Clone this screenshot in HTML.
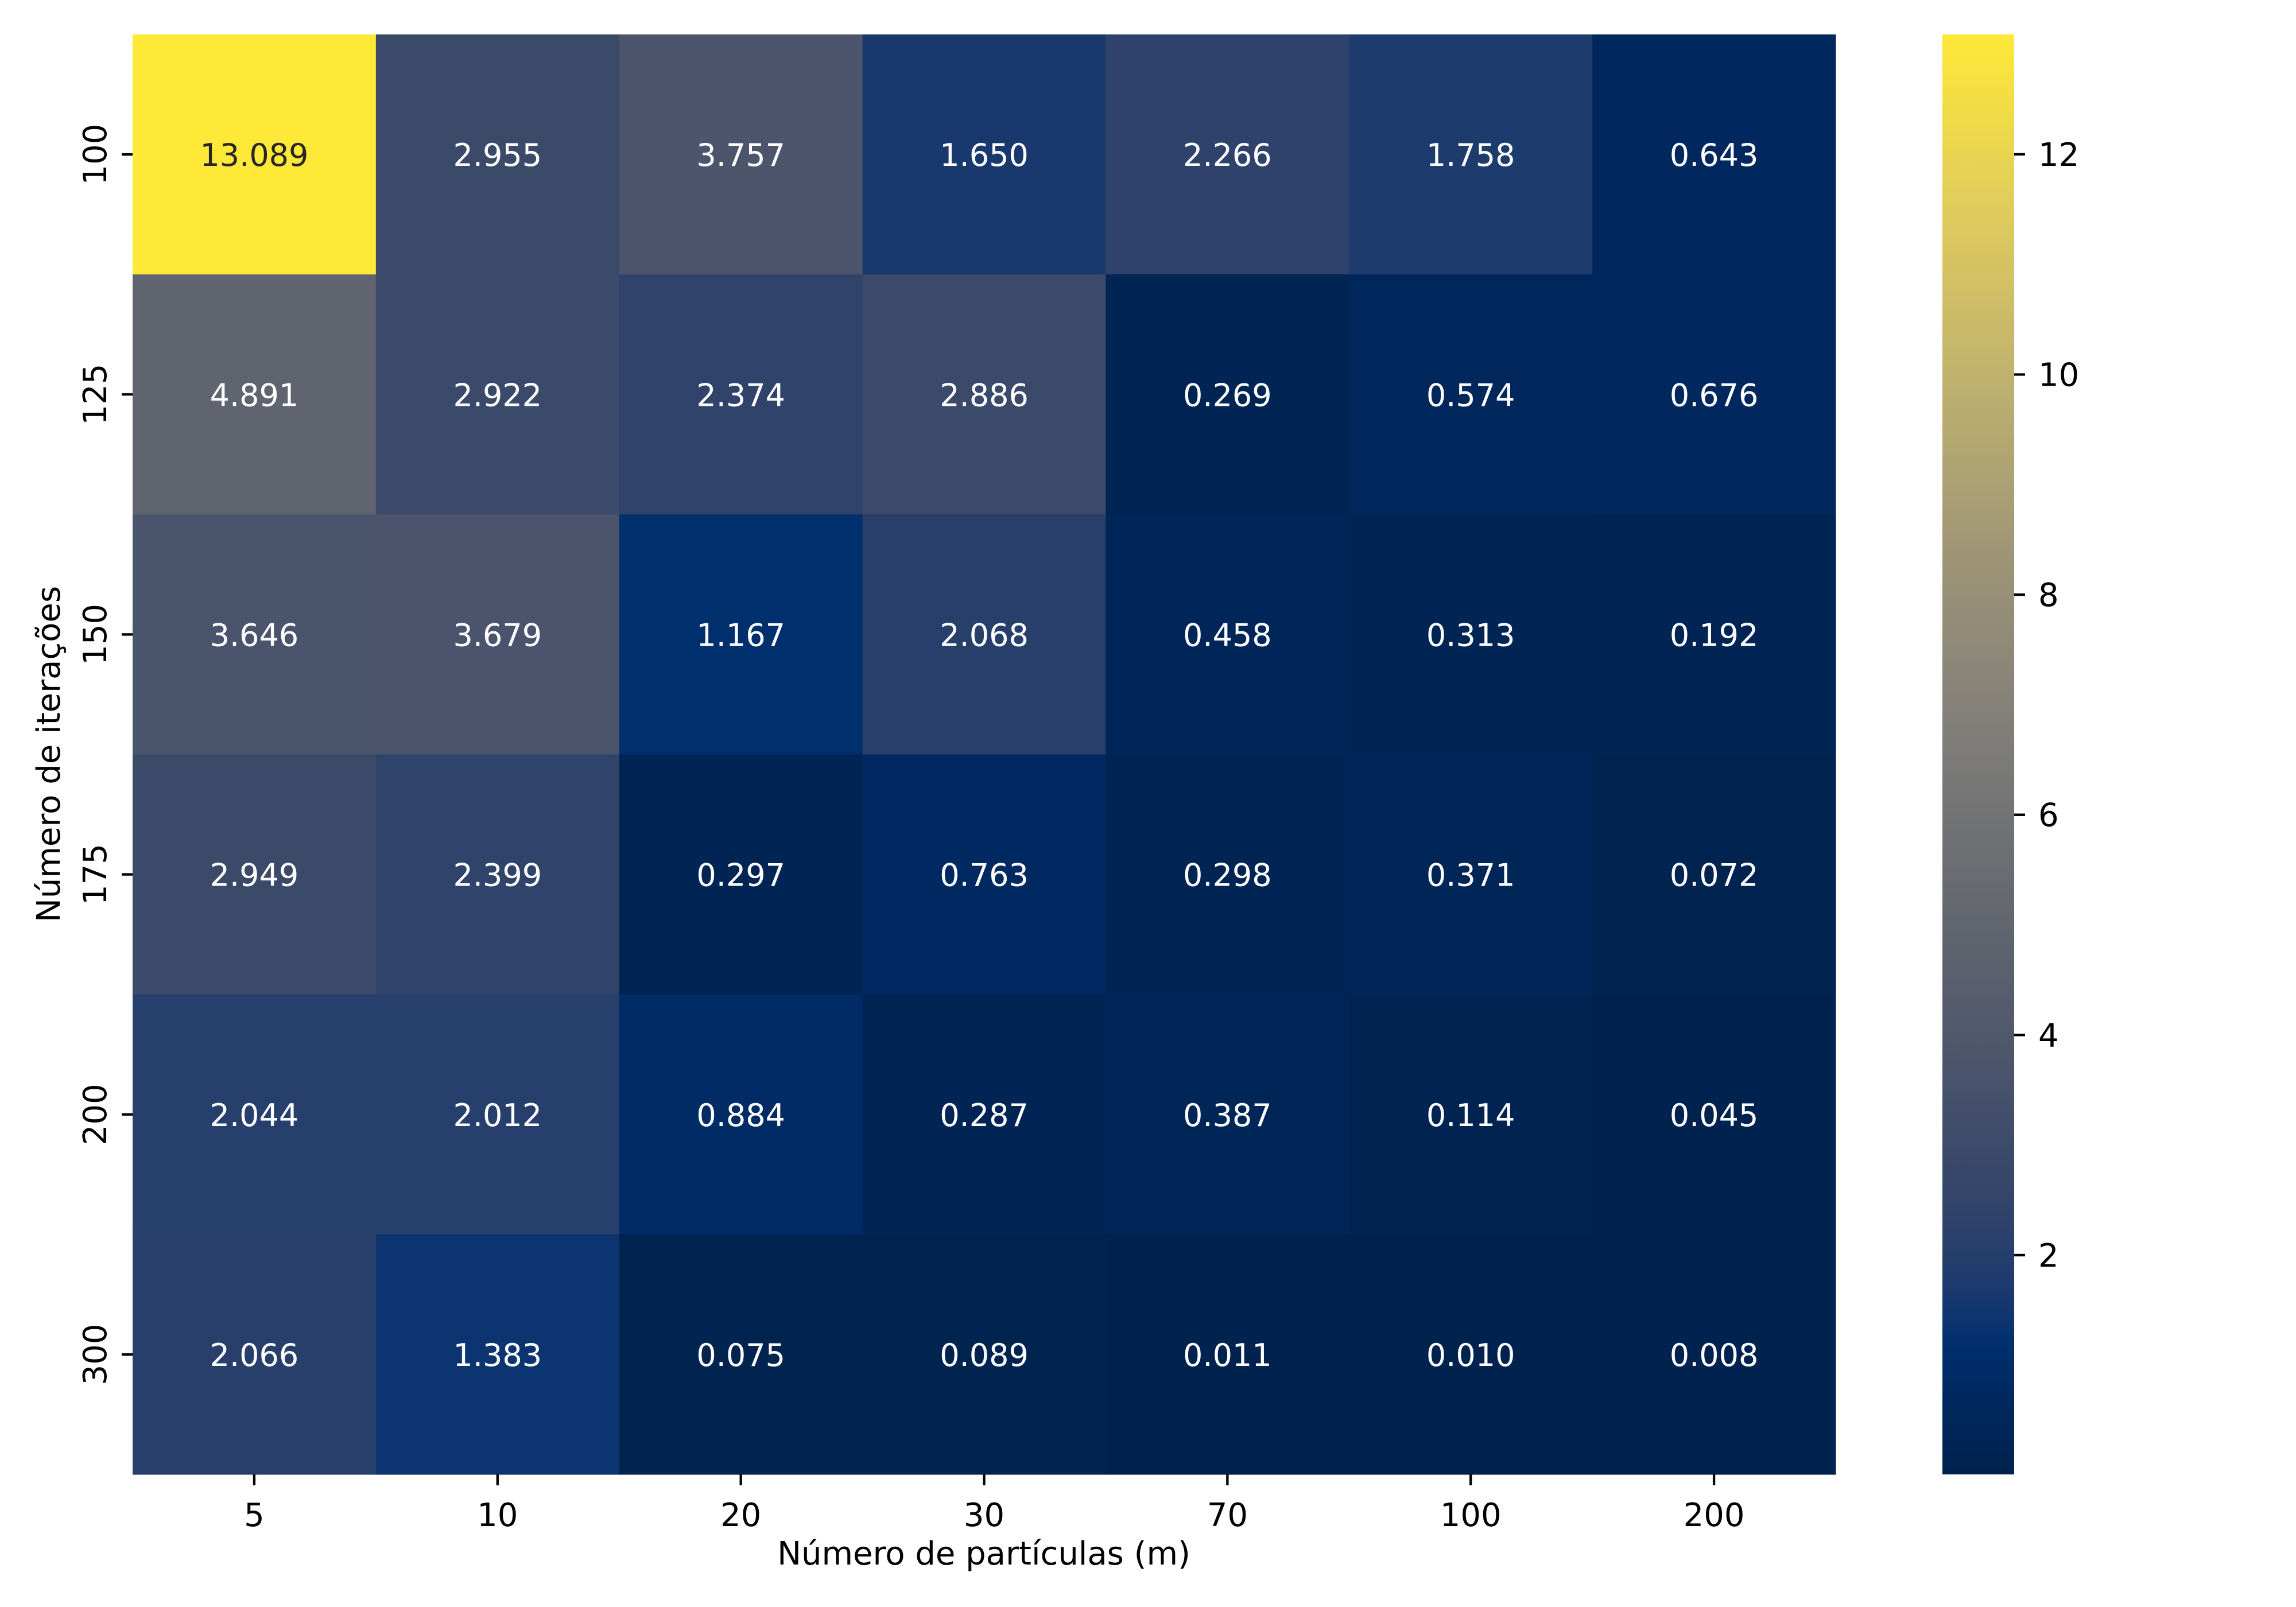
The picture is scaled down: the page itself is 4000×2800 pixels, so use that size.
<!DOCTYPE html>
<html><head><meta charset="utf-8"><style>
html,body{margin:0;padding:0;background:#fff;}
svg{display:block;font-family:"DejaVu Sans","Liberation Sans",sans-serif;}
</style></head><body>
<svg id="chart" width="4000" height="2800" viewBox="0 0 4000 2800" xmlns="http://www.w3.org/2000/svg">
<defs><linearGradient id="cbgrad" x1="0" y1="1" x2="0" y2="0"></linearGradient></defs>
<g id="cells"></g>
<g id="axes"></g>
<rect id="cbar" x="3384" y="60" width="125" height="2509" fill="url(#cbgrad)"/>
<g id="cbaxis"></g>
<text x="1714" y="2726" font-size="56" text-anchor="middle">Número de partículas (m)</text>
<text transform="translate(104,1314) rotate(-90)" font-size="56" text-anchor="middle">Número de iterações</text>
</svg>
<script>
const xCategories = ["5","10","20","30","70","100","200"];
const yCategories = ["100","125","150","175","200","300"];
const values = [
 [13.089,2.955,3.757,1.650,2.266,1.758,0.643],
 [4.891,2.922,2.374,2.886,0.269,0.574,0.676],
 [3.646,3.679,1.167,2.068,0.458,0.313,0.192],
 [2.949,2.399,0.297,0.763,0.298,0.371,0.072],
 [2.044,2.012,0.884,0.287,0.387,0.114,0.045],
 [2.066,1.383,0.075,0.089,0.011,0.010,0.008]
];
const cbTicks = [2,4,6,8,10,12];

const NS="http://www.w3.org/2000/svg";
const L=231,R=3198,T=60,B=2569;
const cw=(R-L)/xCategories.length, ch=(B-T)/yCategories.length;
const flat=values.flat();
const vmin=Math.min(...flat), vmax=Math.max(...flat);
const stops=[[0,"#00224e"],[0.05,"#00285e"],[0.09,"#002f6f"],[0.11,"#0f3570"],[0.13,"#1c3a6e"],[0.17,"#2d426b"],[0.225,"#3c4a6a"],[0.28,"#4b546c"],[0.373,"#60646e"],[0.5,"#7c7b78"],[0.625,"#9b9277"],[0.75,"#bcaf6f"],[0.875,"#dfcb5d"],[1,"#fee838"]];
function hex(h){return [1,3,5].map(i=>parseInt(h.substr(i,2),16));}
function cmap(v){
  let t=(v-vmin)/(vmax-vmin); t=Math.max(0,Math.min(1,t));
  for(let i=1;i<stops.length;i++){
    if(t<=stops[i][0]){const a=stops[i-1],b=stops[i];const f=(t-a[0])/(b[0]-a[0]);
      const ca=hex(a[1]),cb=hex(b[1]);return "rgb("+ca.map((c,k)=>Math.round(c+(cb[k]-c)*f)).join(",")+")";}
  }
  return stops[stops.length-1][1];
}
function xPos(i){return L+cw*i;}
function yPos(j){return T+ch*j;}
function cbY(v){return B-(v-vmin)/(vmax-vmin)*(B-T);}
function mk(tag,attrs,parent){const e=document.createElementNS(NS,tag);for(const k in attrs)e.setAttribute(k,attrs[k]);parent.appendChild(e);return e;}

const cells=document.getElementById('cells');
values.forEach((row,j)=>row.forEach((v,i)=>{
  const r=mk('rect',{x:xPos(i),y:yPos(j),width:cw+0.5,height:ch+0.5,fill:cmap(v)},cells);
  
  
  const t=mk('text',{x:xPos(i)+cw/2,y:yPos(j)+ch/2+20,'font-size':54,'text-anchor':'middle',fill:((v-vmin)/(vmax-vmin)>0.6)?'#262626':'#ffffff'},cells);
  
  
  t.textContent=v.toFixed(3);
}));

const axes=document.getElementById('axes');
xCategories.forEach((c,i)=>{
  const cx=xPos(i)+cw/2;
  const tk=mk('line',{x1:cx,x2:cx,y1:B,y2:B+19,stroke:'#000','stroke-width':4.3},axes);
  
  
  const t=mk('text',{x:cx,y:B+90,'font-size':56,'text-anchor':'middle'},axes);
  
  
  t.textContent=c;
});
yCategories.forEach((c,j)=>{
  const cy=yPos(j)+ch/2;
  const tk=mk('line',{x1:L-19,x2:L,y1:cy,y2:cy,stroke:'#000','stroke-width':4.3},axes);
  
  
  const t=mk('text',{transform:'translate(185,'+cy+') rotate(-90)','font-size':56,'text-anchor':'middle'},axes);
  
  
  t.textContent=c;
});

const grad=document.getElementById('cbgrad');
stops.forEach(s=>{mk('stop',{offset:s[0],'stop-color':s[1]},grad);});
const cba=document.getElementById('cbaxis');
cbTicks.forEach(v=>{
  const y=cbY(v);
  const tk=mk('line',{x1:3509,x2:3528,y1:y,y2:y,stroke:'#000','stroke-width':4.3},cba);
  
  
  const t=mk('text',{x:3551,y:y+20,'font-size':56},cba);
  
  
  t.textContent=v;
});
</script>
</body></html>
